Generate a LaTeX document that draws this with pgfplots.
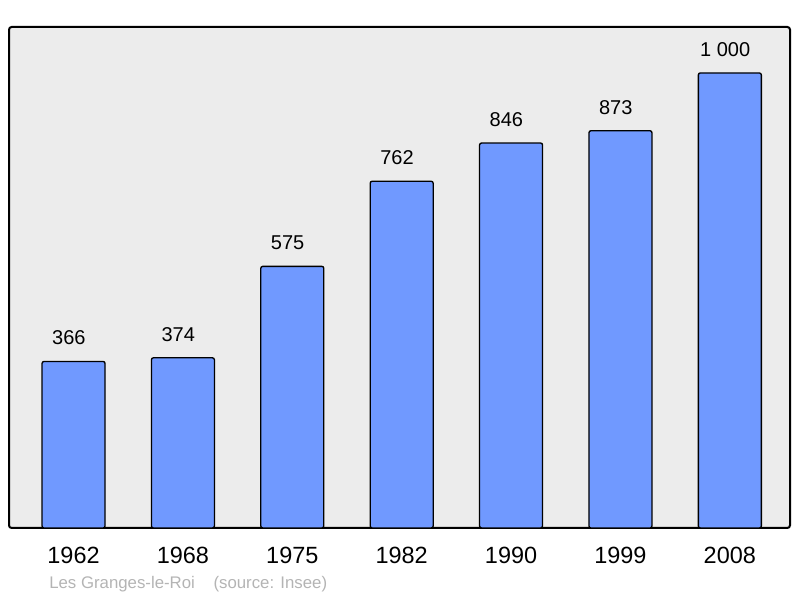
\documentclass[border=0pt]{standalone}
\usepackage{pgfplots}
\pgfplotsset{compat=1.18}
\usepackage{fontspec}
\setmainfont{Liberation Sans}
\definecolor{bggray}{HTML}{ECECEC}
\definecolor{barblue}{HTML}{7099FF}
\definecolor{srcgray}{HTML}{B4B4B4}

\begin{document}
\begin{tikzpicture}[x=0.75pt,y=0.75pt]
\path[use as bounding box] (0,0) rectangle (800,598);
\begin{axis}[
  at={(9*0.75pt,70*0.75pt)},
  anchor=south west,
  scale only axis,
  width=585.75pt,
  height=375.75pt,
  xmin=-0.59, xmax=6.55,
  ymin=0, ymax=1101,
  axis background/.style={fill=bggray},
  axis line style={line width=1.5pt, rounded corners=2pt},
  ybar,
  bar width=47.25pt,
  xtick=data,
  xticklabels={1962,1968,1975,1982,1990,1999,2008},
  ytick=\empty,
  major tick length=0pt,
  xticklabel style={font=\fontsize{17.6}{19}\selectfont, anchor=base, yshift=-27pt},
  point meta=explicit symbolic,
  nodes near coords,
  every node near coord/.append style={font=\fontsize{15}{17}\selectfont, anchor=base, yshift=12.5pt, xshift=-3.5pt},
  clip=false,
]
\addplot[draw=black, line width=1pt, fill=barblue, rounded corners=1.5pt] coordinates {
  (0,366) [366]
  (1,374) [374]
  (2,575) [575]
  (3,762) [762]
  (4,846) [846]
  (5,873) [873]
  (6,1000) [1 000]
};
\end{axis}
\node[anchor=base west, font=\fontsize{12.6}{14}\selectfont, text=srcgray, inner sep=0pt] at (49,9) {Les Granges-le-Roi\hspace{14pt}(source: Insee)};
\end{tikzpicture}
\end{document}
